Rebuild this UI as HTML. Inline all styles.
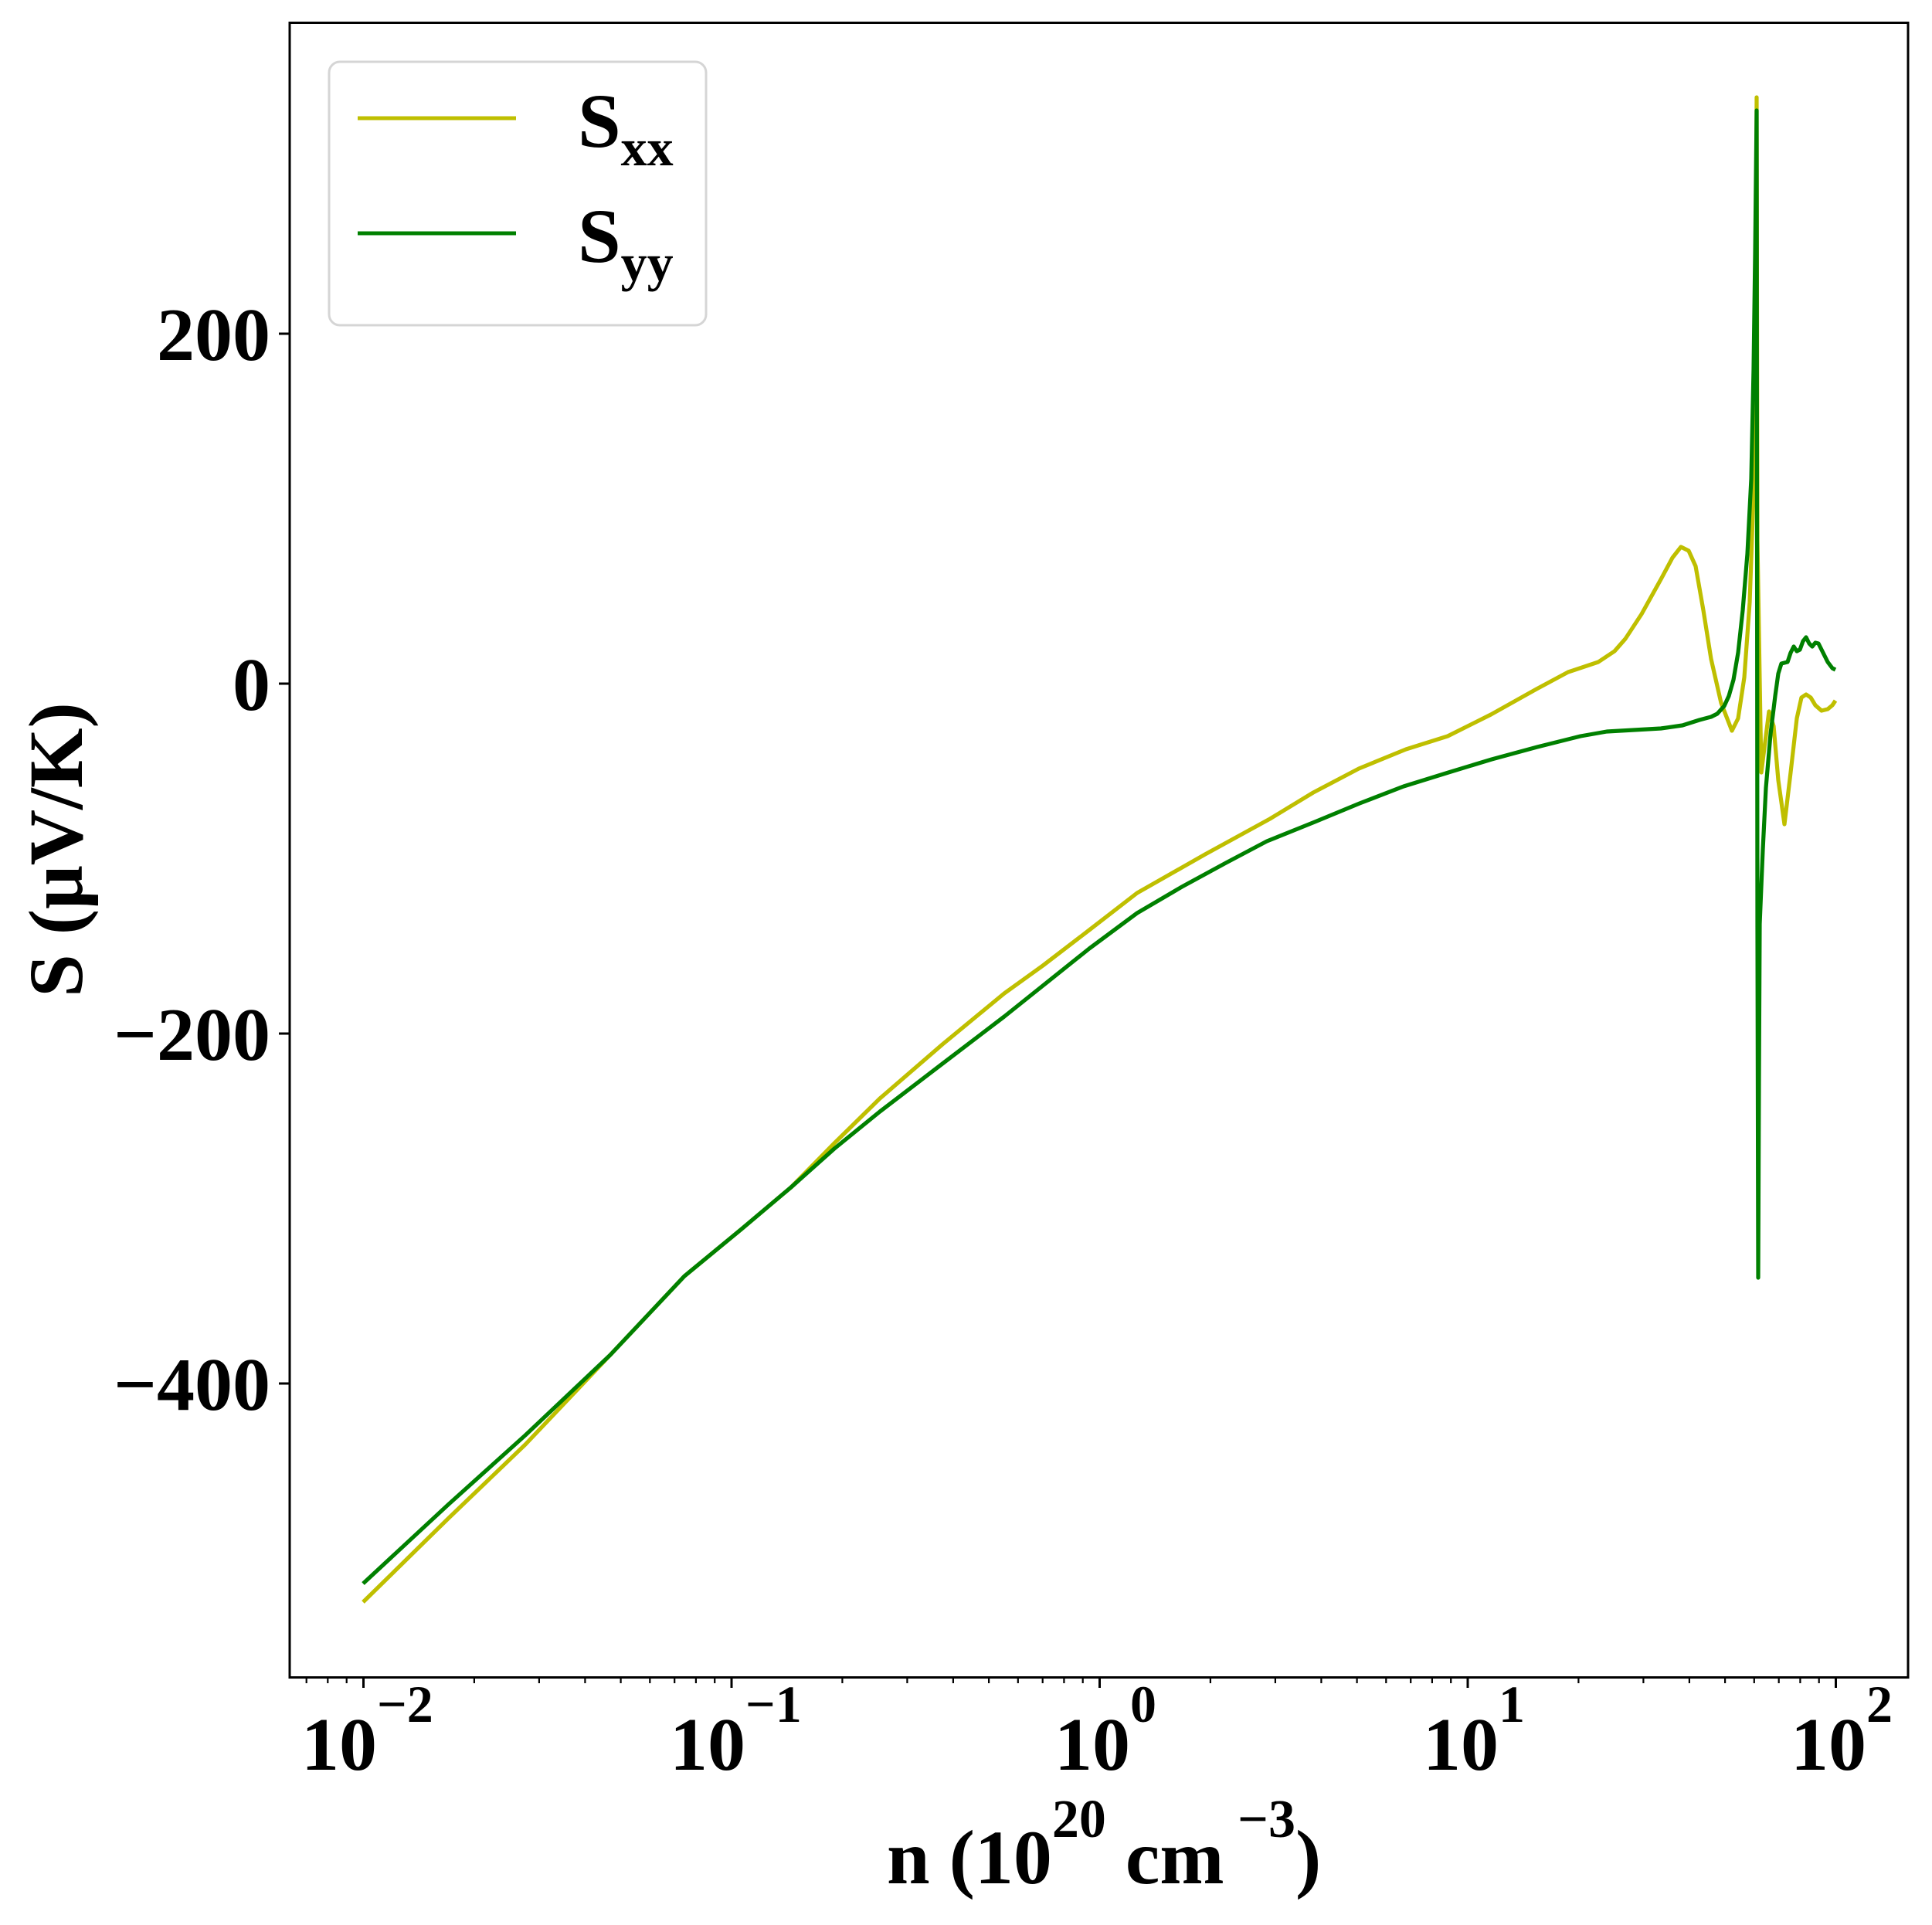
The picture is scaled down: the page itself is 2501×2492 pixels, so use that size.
<!DOCTYPE html>
<html><head><meta charset="utf-8"><style>
html,body{margin:0;padding:0;background:#fff}
svg{display:block}
text{font-family:"Liberation Serif","Times New Roman",serif;font-weight:bold;fill:#000}
</style></head><body>
<svg width="2501" height="2492" viewBox="0 0 2501 2492" xmlns="http://www.w3.org/2000/svg">
<rect x="0" y="0" width="2501" height="2492" fill="#fff"/>
<g fill="none" stroke-width="5.2" stroke-linejoin="round" stroke-linecap="butt">
<polyline stroke="#bfbf00" points="470,2074 580,1966 680,1870 790,1754 886,1652 960,1591 1024,1537 1080,1480 1139,1422 1220,1352 1300,1286 1350,1250 1410,1204 1472,1156 1560,1106 1644,1060 1700,1026 1759,995 1820,970 1874,953 1930,925 1989,892 2030,870 2069,857 2090,843 2104,827 2125,795 2150,750 2165,722 2176,708 2186,713 2195,733 2205,790 2215,853 2228,910 2242,946 2250,930 2258,877 2265,780 2270,638 2273,400 2274,126 2275,700 2280,1000 2290,921 2296,940 2302,1010 2310,1067 2318,1000 2326,930 2332,903 2338,899 2344,903 2350,913 2358,920 2366,918 2372,913 2376,907"/>
<polyline stroke="#008000" points="470,2050 580,1948 680,1858 790,1754 886,1652 960,1591 1024,1537 1080,1487 1139,1439 1220,1377 1300,1316 1350,1276 1410,1228 1472,1182 1530,1148 1587,1117 1640,1089 1702,1064 1760,1040 1817,1018 1875,1000 1931,983 1990,967 2046,953 2080,947 2115,945 2150,943 2178,939 2200,932 2215,928 2223,924 2232,914 2238,901 2244,880 2250,845 2256,790 2262,717 2267,620 2270,478 2272,330 2274,143 2275,1200 2276,1654 2277,1400 2278,1196 2282,1100 2286,1020 2292,950 2298,901 2302,872 2306,859 2314,857 2318,845 2322,837 2326,843 2330,841 2334,830 2338,825 2342,833 2346,837 2350,832 2354,833 2360,845 2366,857 2372,865 2376,867"/>
</g>
<rect x="375" y="29.5" width="2095" height="2142" fill="none" stroke="#000" stroke-width="3"/>
<g stroke="#000" stroke-width="3">
<line x1="361" y1="432" x2="375" y2="432"/>
<line x1="361" y1="885" x2="375" y2="885"/>
<line x1="361" y1="1338" x2="375" y2="1338"/>
<line x1="361" y1="1791" x2="375" y2="1791"/>
<line x1="470.5" y1="2171" x2="470.5" y2="2185"/>
<line x1="947" y1="2171" x2="947" y2="2185"/>
<line x1="1423.5" y1="2171" x2="1423.5" y2="2185"/>
<line x1="1900" y1="2171" x2="1900" y2="2185"/>
<line x1="2376.5" y1="2171" x2="2376.5" y2="2185"/>
</g>
<g stroke="#000" stroke-width="2.2">
<line x1="396.7" y1="2171" x2="396.7" y2="2179"/><line x1="424.3" y1="2171" x2="424.3" y2="2179"/><line x1="448.7" y1="2171" x2="448.7" y2="2179"/>
<line x1="613.9" y1="2171" x2="613.9" y2="2179"/><line x1="697.9" y1="2171" x2="697.9" y2="2179"/><line x1="757.4" y1="2171" x2="757.4" y2="2179"/><line x1="803.6" y1="2171" x2="803.6" y2="2179"/><line x1="841.3" y1="2171" x2="841.3" y2="2179"/><line x1="873.2" y1="2171" x2="873.2" y2="2179"/><line x1="900.9" y1="2171" x2="900.9" y2="2179"/><line x1="925.2" y1="2171" x2="925.2" y2="2179"/>
<line x1="1090.4" y1="2171" x2="1090.4" y2="2179"/><line x1="1174.4" y1="2171" x2="1174.4" y2="2179"/><line x1="1233.9" y1="2171" x2="1233.9" y2="2179"/><line x1="1280.1" y1="2171" x2="1280.1" y2="2179"/><line x1="1317.8" y1="2171" x2="1317.8" y2="2179"/><line x1="1349.7" y1="2171" x2="1349.7" y2="2179"/><line x1="1377.4" y1="2171" x2="1377.4" y2="2179"/><line x1="1401.7" y1="2171" x2="1401.7" y2="2179"/>
<line x1="1566.9" y1="2171" x2="1566.9" y2="2179"/><line x1="1650.9" y1="2171" x2="1650.9" y2="2179"/><line x1="1710.4" y1="2171" x2="1710.4" y2="2179"/><line x1="1756.6" y1="2171" x2="1756.6" y2="2179"/><line x1="1794.3" y1="2171" x2="1794.3" y2="2179"/><line x1="1826.2" y1="2171" x2="1826.2" y2="2179"/><line x1="1853.9" y1="2171" x2="1853.9" y2="2179"/><line x1="1878.2" y1="2171" x2="1878.2" y2="2179"/>
<line x1="2043.4" y1="2171" x2="2043.4" y2="2179"/><line x1="2127.4" y1="2171" x2="2127.4" y2="2179"/><line x1="2186.9" y1="2171" x2="2186.9" y2="2179"/><line x1="2233.1" y1="2171" x2="2233.1" y2="2179"/><line x1="2270.8" y1="2171" x2="2270.8" y2="2179"/><line x1="2302.7" y1="2171" x2="2302.7" y2="2179"/><line x1="2330.4" y1="2171" x2="2330.4" y2="2179"/><line x1="2354.7" y1="2171" x2="2354.7" y2="2179"/>
</g>
<g font-size="98" text-anchor="end">
<text x="350" y="466">200</text>
<text x="350" y="919">0</text>
<text x="350" y="1372">−200</text>
<text x="350" y="1825">−400</text>
</g>
<g font-size="98">
<text x="390" y="2291">10<tspan font-size="68" dy="-62">−2</tspan></text>
<text x="867" y="2291">10<tspan font-size="68" dy="-62">−1</tspan></text>
<text x="1365" y="2291">10<tspan font-size="68" dy="-62">0</tspan></text>
<text x="1842" y="2291">10<tspan font-size="68" dy="-62">1</tspan></text>
<text x="2318" y="2291">10<tspan font-size="68" dy="-62">2</tspan></text>
</g>
<text x="1148" y="2438" font-size="100">n (10<tspan font-size="70" dy="-60">20</tspan><tspan dy="60"> cm</tspan><tspan font-size="70" dy="-60"> −3</tspan><tspan dy="60">)</tspan></text>
<text transform="translate(106,1100) rotate(-90)" text-anchor="middle" font-size="100">S (μV/K)</text>
<rect x="426" y="80" width="488" height="341" rx="14" ry="14" fill="#fff" fill-opacity="0.8" stroke="#d5d5d5" stroke-width="3"/>
<line x1="463" y1="153" x2="668" y2="153" stroke="#bfbf00" stroke-width="5"/>
<line x1="463" y1="302" x2="668" y2="302" stroke="#008000" stroke-width="5"/>
<text x="748" y="190" font-size="100">S<tspan font-size="68" dy="24">xx</tspan></text>
<text x="748" y="339" font-size="100">S<tspan font-size="68" dy="24">yy</tspan></text>
</svg>
</body></html>
